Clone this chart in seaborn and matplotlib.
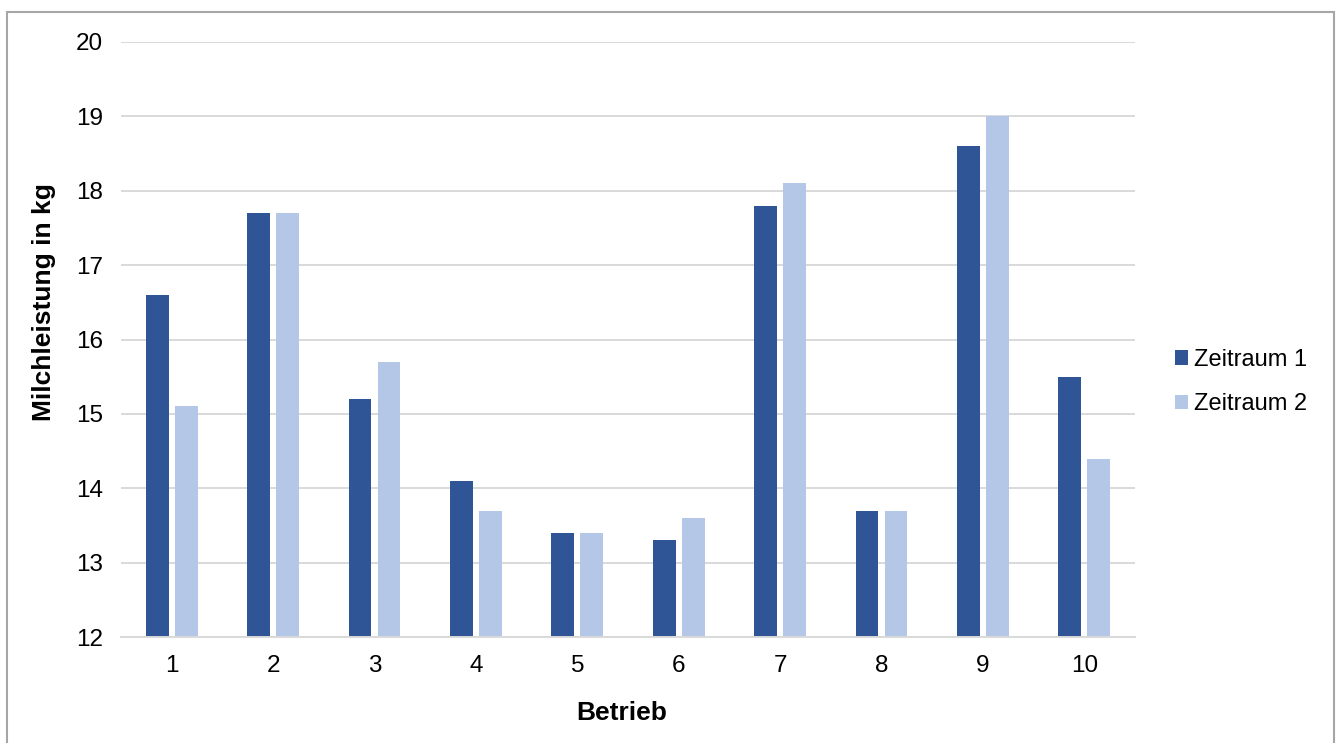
import matplotlib
matplotlib.use("Agg")
import matplotlib.pyplot as plt
import seaborn as sns
import pandas as pd
from matplotlib.patches import Rectangle, Patch

betriebe = ["1", "2", "3", "4", "5", "6", "7", "8", "9", "10"]
zeitraum_1 = [16.6, 17.7, 15.2, 14.1, 13.4, 13.3, 17.8, 13.7, 18.6, 15.5]
zeitraum_2 = [15.1, 17.7, 15.7, 13.7, 13.4, 13.6, 18.1, 13.7, 19.0, 14.4]
series_names = ["Zeitraum 1", "Zeitraum 2"]
colors = ["#2F5597", "#B4C7E7"]
y_ticks = [12, 13, 14, 15, 16, 17, 18, 19, 20]

df = pd.DataFrame({
    "Betrieb": betriebe * 2,
    "Wert": zeitraum_1 + zeitraum_2,
    "Serie": [series_names[0]] * len(betriebe) + [series_names[1]] * len(betriebe),
})

sns.set_theme(style="white")
plt.rcParams["font.family"] = ["Liberation Sans", "DejaVu Sans"]
plt.rcParams["text.color"] = "black"
plt.rcParams["axes.labelcolor"] = "black"

W, H = 1342, 743
fig = plt.figure(figsize=(W / 100, H / 100), dpi=100)
ax = fig.add_axes([121 / W, 1 - 637 / H, (1135 - 121) / W, (637 - 42) / H])

sns.barplot(data=df, x="Betrieb", y="Wert", hue="Serie", order=betriebe,
            hue_order=series_names, palette=colors, width=0.572, gap=0.22,
            saturation=1, linewidth=0, edgecolor="none", ax=ax, legend=False)

ax.set_ylim(12, 20)
ax.set_xlim(-0.5, len(betriebe) - 0.5)
ax.set_yticks(y_ticks)
ax.set_yticklabels([str(t) for t in y_ticks])
ax.yaxis.grid(True, color="#D9D9D9", linewidth=1.4)
ax.set_axisbelow(True)
for s in ["left", "right", "top"]:
    ax.spines[s].set_visible(False)
ax.spines["bottom"].set_color("#D9D9D9")
ax.spines["bottom"].set_linewidth(1.4)
ax.tick_params(axis="both", length=0, labelsize=17.5, colors="black")
ax.tick_params(axis="x", pad=13)
ax.tick_params(axis="y", pad=13)

ax.set_xlabel("Betrieb", fontsize=19, fontweight="bold")
ax.set_ylabel("Milchleistung in kg", fontsize=19, fontweight="bold")
ax.xaxis.set_label_coords((622 - 121) / 1014, -(701 - 637) / 595)
ax.yaxis.set_label_coords(-(121 - 56) / 1014, (637 - 302) / 595)

handles = [Patch(facecolor=c, edgecolor="none") for c in colors]
fig.legend(handles, series_names, loc="center left",
           bbox_to_anchor=(1154 / W, 1 - 382 / H), frameon=False,
           fontsize=17, handlelength=0.55, handleheight=0.55,
           handletextpad=0.25, labelspacing=0.95)

fig.patches.append(Rectangle((7 / W, -0.01), (1334 - 7) / W, 1.01 - 12 / H,
                             transform=fig.transFigure, fill=False,
                             edgecolor="#A6A6A6", linewidth=1.5))

fig.savefig("out.png", dpi=100)
